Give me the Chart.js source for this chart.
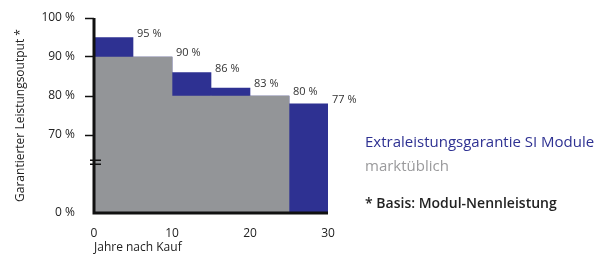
<!DOCTYPE html>
<html>
<head>
<meta charset="utf-8">
<script src="https://cdn.jsdelivr.net/npm/chart.js@4/dist/chart.umd.min.js"></script>
<style>
  html, body { margin: 0; padding: 0; background: #fff; }
  #wrap { position: relative; width: 607px; height: 255px; font-family: "Open Sans", sans-serif; }
  #legend { position: absolute; left: 365px; top: 131px; }
  #legend div { white-space: nowrap; }
  .l-blue { color: #2e3192; font-size: 15px; }
  .l-gray { color: #9a9a9c; font-size: 15px; margin-top: 4px; }
  .l-note { color: #222; font-size: 14px; font-weight: 600; margin-top: 18px; }
</style>
</head>
<body>
<div id="wrap">
  <canvas id="c" width="607" height="255"></canvas>
  <div id="legend">
    <div class="l-blue">Extraleistungsgarantie SI Module</div>
    <div class="l-gray">marktüblich</div>
    <div class="l-note">* Basis: Modul-Nennleistung</div>
  </div>
</div>
<script>
// year blocks (midpoints of 5-year steps)
const years = [2.5, 7.5, 12.5, 17.5, 22.5, 27.5];
const siGuarantee = [95, 90, 86, 82, 80, 78];
const marketUsual = [90, 90, 80, 80, 80, null];
const stepLabels = ["95 %", "90 %", "86 %", "83 %", "80 %", "77 %"];
const yTickPercents = [0, 70, 80, 90, 100];
const xTicks = [0, 10, 20, 30];

const BLUE = "#2e3192";
const GRAY = "#939598";
const FONT = "'Open Sans', sans-serif";

// broken axis: 0..70 squeezed into 2 units, 70..100 one unit per 10 %
const toAxis = (v) => v == null ? null : (v >= 70 ? 2 + (v - 70) / 10 : v / 35);
const fromAxis = (u) => u >= 2 ? 70 + (u - 2) * 10 : u * 35;

const labelPlugin = {
  id: "stepLabels",
  afterDatasetsDraw(chart) {
    const { ctx, scales: { x, y } } = chart;
    ctx.save();
    ctx.font = "11px " + FONT;
    ctx.fillStyle = "#333";
    ctx.textAlign = "left";
    ctx.textBaseline = "alphabetic";
    years.forEach((yr, i) => {
      const px = x.getPixelForValue(yr + 2.5) + 4;
      const py = y.getPixelForValue(toAxis(siGuarantee[i])) - 1;
      ctx.fillText(stepLabels[i], px, py);
    });
    // axis lines
    ctx.strokeStyle = "#111";
    ctx.lineWidth = 3;
    ctx.beginPath();
    ctx.moveTo(x.left, y.getPixelForValue(5));
    ctx.lineTo(x.left, y.bottom);
    ctx.lineTo(x.right, y.bottom);
    ctx.stroke();
    // break mark
    const by = y.getPixelForValue(1.3);
    ctx.lineWidth = 1.5;
    ctx.beginPath();
    ctx.moveTo(x.left - 4, by - 2); ctx.lineTo(x.left + 7, by - 2);
    ctx.moveTo(x.left - 4, by + 2); ctx.lineTo(x.left + 7, by + 2);
    ctx.stroke();
    ctx.restore();
  }
};

new Chart(document.getElementById("c"), {
  type: "bar",
  data: {
    datasets: [
      {
        label: "marktüblich",
        data: years.map((yr, i) => ({ x: yr, y: toAxis(marketUsual[i]) })),
        backgroundColor: GRAY,
        borderWidth: 0,
      },
      {
        label: "Extraleistungsgarantie SI Module",
        data: years.map((yr, i) => ({ x: yr, y: toAxis(siGuarantee[i]) })),
        backgroundColor: BLUE,
        borderWidth: 0,
      },
    ],
  },
  options: {
    responsive: false,
    animation: false,
    grouped: false,
    barPercentage: 1,
    categoryPercentage: 1,
    layout: { padding: { left: 13, right: 279, top: 18, bottom: 0 } },
    plugins: { legend: { display: false }, tooltip: { enabled: false } },
    scales: {
      x: {
        type: "linear",
        min: 0,
        max: 30,
        offset: false,
        grid: { display: false, offset: false },
        border: { display: false },
        afterBuildTicks: (s) => { s.ticks = xTicks.map(v => ({ value: v })); },
        ticks: { color: "#222", font: { family: FONT, size: 12 }, padding: 5 },
        title: {
          display: true, align: "start", text: "Jahre nach Kauf",
          color: "#222", font: { family: FONT, size: 12 }, padding: { top: 4, bottom: 0 },
        },
        afterFit: (s) => { s.height = 42; },
      },
      y: {
        min: 0,
        max: 5,
        grid: {
          drawOnChartArea: false,
          drawTicks: true,
          tickLength: 9,
          tickWidth: 1.5,
          color: (c) => c.tick && c.tick.value === 0 ? "rgba(0,0,0,0)" : "#111",
        },
        border: { display: false },
        afterBuildTicks: (s) => { s.ticks = yTickPercents.map(p => ({ value: toAxis(p) })); },
        ticks: {
          color: "#222",
          font: { family: FONT, size: 12 },
          padding: 10,
          callback: (u) => Math.round(fromAxis(u)) + " %",
        },
        title: {
          display: true, text: "Garantierter Leistungsoutput *",
          color: "#222", font: { family: FONT, size: 12 }, padding: { top: 0, bottom: 0 },
        },
        afterFit: (s) => { s.width = 81; },
      },
    },
  },
  plugins: [labelPlugin],
});
</script>
</body>
</html>
